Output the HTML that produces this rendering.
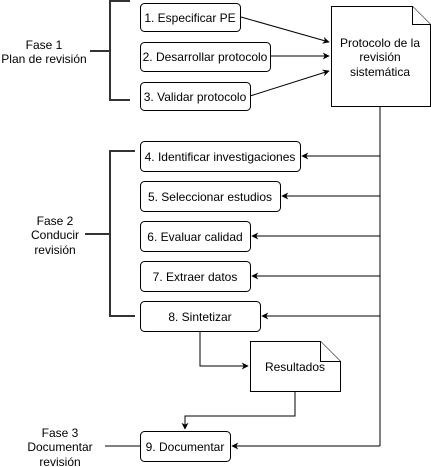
<!DOCTYPE html>
<html><head><style>body{margin:0;background:#fff}svg{display:block}</style></head><body>
<svg width="431" height="467" viewBox="0 0 431 467" xmlns="http://www.w3.org/2000/svg" font-family="Liberation Sans, sans-serif" font-size="12">
<defs><marker id="a" viewBox="0 0 10 10" refX="9" refY="5" markerWidth="7" markerHeight="7" orient="auto"><path d="M0,0 L10,5 L0,10 L3,5 Z" fill="#000"/></marker></defs>
<g fill="none" stroke="#333" stroke-width="2">
<path d="M130,1 H110 V100 H130"/><path d="M90,51 H110"/>
<path d="M135,151 H110 V316 H135"/><path d="M85,234 H110"/>
</g>
<g fill="none" stroke="#000" stroke-width="1">
<path d="M241,17 L329,42" marker-end="url(#a)"/>
<path d="M270,56 L329,56" marker-end="url(#a)"/>
<path d="M250,96 L329,71" marker-end="url(#a)"/>
<path d="M380,106 V446"/>
<path d="M380,156 H302" marker-end="url(#a)"/>
<path d="M380,196 H282" marker-end="url(#a)"/>
<path d="M380,236 H252" marker-end="url(#a)"/>
<path d="M380,276 H252" marker-end="url(#a)"/>
<path d="M380,316 H262" marker-end="url(#a)"/>
<path d="M380,446 H232" marker-end="url(#a)"/>
<path d="M200,331 V366 H248" marker-end="url(#a)"/>
<path d="M295,391 V416 H185 V429" marker-end="url(#a)"/>
<path d="M105,446 H140"/>
</g>
<g fill="#fff" stroke="#000" stroke-width="1">
<rect x="140.5" y="3.5" width="100" height="28" rx="4"/>
<rect x="140.5" y="42.5" width="130" height="29" rx="4"/>
<rect x="140.5" y="82.5" width="110" height="28" rx="4"/>
<path d="M331.5,6.5 H412.5 L430.5,24.5 V106.5 H331.5 Z"/><path d="M412.5,6.5 V24.5 H430.5"/>
<rect x="140.5" y="141.5" width="160" height="30" rx="4"/>
<rect x="140.5" y="181.5" width="140" height="30" rx="4"/>
<rect x="140.5" y="221.5" width="110" height="30" rx="4"/>
<rect x="140.5" y="261.5" width="110" height="30" rx="4"/>
<rect x="140.5" y="301.5" width="120" height="30" rx="4"/>
<path d="M250.5,341.5 H320.5 L340.5,361.5 V391.5 H250.5 Z"/><path d="M320.5,341.5 V361.5 H340.5"/>
<rect x="140.5" y="431.5" width="90" height="30" rx="4"/>
</g>
<g fill="#000" text-anchor="middle">
<text x="190" y="22">1. Especificar PE</text>
<text x="205" y="61">2. Desarrollar protocolo</text>
<text x="195" y="101">3. Validar protocolo</text>
<text x="380" y="47">Protocolo de la</text>
<text x="380" y="61">revisión</text>
<text x="380" y="76">sistemática</text>
<text x="220" y="161">4. Identificar investigaciones</text>
<text x="210" y="201">5. Seleccionar estudios</text>
<text x="195" y="241">6. Evaluar calidad</text>
<text x="195" y="281">7. Extraer datos</text>
<text x="200" y="321">8. Sintetizar</text>
<text x="295" y="371">Resultados</text>
<text x="185" y="451">9. Documentar</text>
<text x="44" y="49">Fase 1</text>
<text x="44" y="63">Plan de revisión</text>
<text x="55" y="225">Fase 2</text>
<text x="55" y="239">Conducir</text>
<text x="55" y="254">revisión</text>
<text x="60" y="437">Fase 3</text>
<text x="60" y="451">Documentar</text>
<text x="60" y="466">revisión</text>
</g>
</svg>
</body></html>
